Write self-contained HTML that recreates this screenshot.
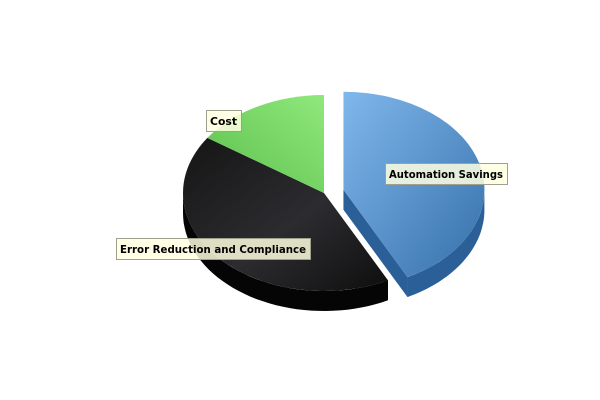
<!DOCTYPE html>
<html><head><meta charset="utf-8"><style>
html,body{margin:0;padding:0;background:#fff;}
svg{display:block;font-family:"DejaVu Sans","Liberation Sans",sans-serif;}
</style></head><body>
<svg id="chart" width="600" height="400" viewBox="0 0 600 400" xmlns="http://www.w3.org/2000/svg">
<defs>
<linearGradient id="gBlue" x1="0" y1="0" x2="1" y2="1"><stop offset="0" stop-color="#80b8ec"/><stop offset="1" stop-color="#3670aa"/></linearGradient>
<linearGradient id="gBlack" x1="0" y1="0" x2="1" y2="1"><stop offset="0" stop-color="#151515"/><stop offset="0.55" stop-color="#2c2c30"/><stop offset="1" stop-color="#0e0e0e"/></linearGradient>
<linearGradient id="gGreen" x1="0" y1="1" x2="1" y2="0"><stop offset="0" stop-color="#5cc04c"/><stop offset="1" stop-color="#90e87c"/></linearGradient>
</defs>
<rect width="600" height="400" fill="#fff"/>
<g id="slices"></g>
<g id="labels"></g>
</svg>
<script>
const categories = ["Automation Savings", "Error Reduction and Compliance", "Cost"];
const values = [42.5, 42.0, 15.5];
const exploded = [true, false, false];

const fills = ["url(#gBlue)", "url(#gBlack)", "url(#gGreen)"];
const sideFills = ["#2a5f98", "#050505", "#4aa03c"];
const labelPos = [[385,163,122],[116,238,194],[206,110,35]];
const cx = 324, cy = 193, rx = 141, ry = 98, depth = 20, explodeDist = 20;
const NS = "http://www.w3.org/2000/svg";
const gS = document.getElementById('slices'), gL = document.getElementById('labels');
const total = values.reduce((a,b)=>a+b,0);
const rad = d => d*Math.PI/180;
function P(a, ox, oy, dz){ return [ox + rx*Math.cos(rad(a)), oy - ry*Math.sin(rad(a)) + dz]; }
function mk(tag, attrs){ const e=document.createElementNS(NS,tag); for(const k in attrs) e.setAttribute(k,attrs[k]); return e; }

let a = 90;
const slices = values.map((v,i)=>{
  const span = v/total*360; const s = {i, aStart:a, aEnd:a-span, span}; a -= span;
  const mid = (s.aStart+s.aEnd)/2;
  s.ox = cx + (exploded[i] ? explodeDist*Math.cos(rad(mid)) : 0);
  s.oy = cy - (exploded[i] ? explodeDist*0.7*Math.sin(rad(mid)) : 0);
  return s;
});

function sidePath(s){
  let parts = [];
  for (const k of [-360,0,360]) {
    const lo = Math.max(s.aEnd, 180+k), hi = Math.min(s.aStart, 360+k);
    if (hi > lo) parts.push([lo,hi]);
  }
  return parts.map(([lo,hi])=>{
    let top=[], bot=[];
    for (let t=hi; t>=lo-1e-9; t-=(hi-lo)/40){ top.push(P(t,s.ox,s.oy,0)); bot.unshift(P(t,s.ox,s.oy,depth)); }
    return "M"+top.concat(bot).map(p=>p[0].toFixed(1)+","+p[1].toFixed(1)).join("L")+"Z";
  }).join(" ");
}

slices.forEach(s=>{
  const g = mk('g',{});
  
  
  if (exploded[s.i]) {
    [s.aEnd].forEach(ang=>{
      const e = P(ang,s.ox,s.oy,0), e2 = P(ang,s.ox,s.oy,depth);
      const face = mk('path',{d:`M${s.ox},${s.oy}L${e[0]},${e[1]}L${e2[0]},${e2[1]}L${s.ox},${s.oy+depth}Z`, fill:sideFills[s.i]});
      
      
      g.appendChild(face);
    });
  }
  const sp = sidePath(s);
  if (sp) {
    const side = mk('path',{d:sp, fill:sideFills[s.i]});
    
    
    g.appendChild(side);
  }
  const p1 = P(s.aStart,s.ox,s.oy,0), p2 = P(s.aEnd,s.ox,s.oy,0);
  const large = s.span>180?1:0;
  const top = mk('path',{d:`M${s.ox},${s.oy}L${p1[0]},${p1[1]}A${rx},${ry} 0 ${large} 1 ${p2[0]},${p2[1]}Z`, fill:fills[s.i]});
  
  
  g.appendChild(top);
  gS.appendChild(g);
});

slices.forEach(s=>{
  const [x,y,w] = labelPos[s.i];
  const g = mk('g',{});
  
  
  g.appendChild(mk('rect',{x:x+0.5,y:y+0.5,width:w,height:21,fill:"#ffffe0","fill-opacity":"0.85",stroke:"#a0a08c"}));
  const t = mk('text',{x:x+4,y:y+15,"font-size":"11","font-weight":"bold",fill:"#000",textLength:(w-8),lengthAdjust:"spacingAndGlyphs"});
  t.textContent = categories[s.i];
  g.appendChild(t);
  gL.appendChild(g);
});
</script>
</body></html>
